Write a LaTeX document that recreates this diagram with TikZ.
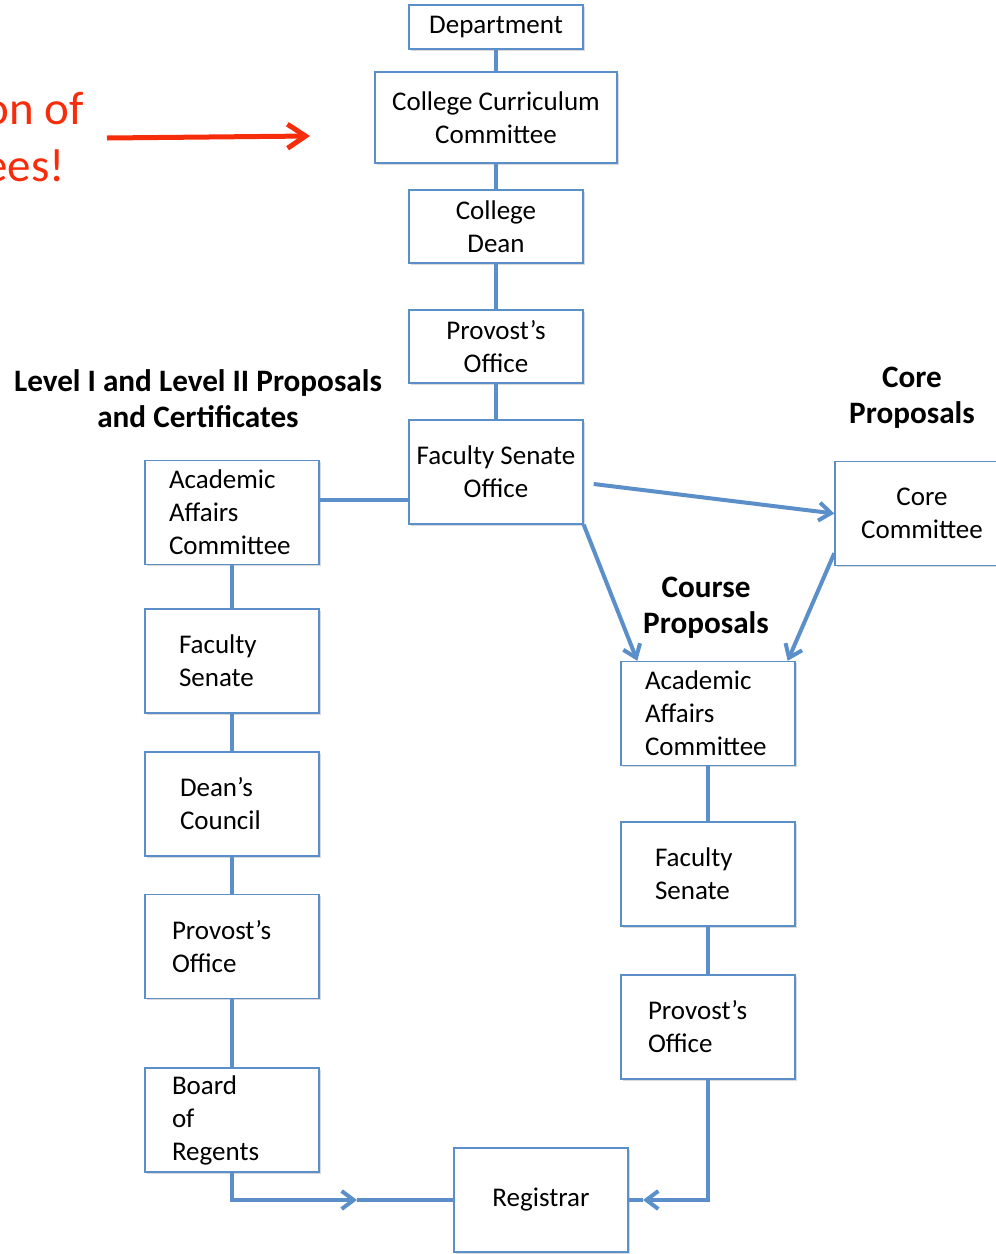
\documentclass[tikz,border=0pt]{standalone}
\usepackage{fontspec}
\setmainfont{Carlito}
\usetikzlibrary{arrows.meta,shadows}
\definecolor{linkblue}{RGB}{91,143,201}
\definecolor{alertred}{RGB}{246,44,10}

\begin{document}
\begin{tikzpicture}[x=0.5pt,y=-0.5pt,
	box/.style={draw=linkblue, line width=0.7pt, fill=white, minimum width=87pt, minimum height=52pt,
		align=center, inner sep=2pt, font=\fontsize{13.5}{16.5}\selectfont,
		drop shadow={shadow xshift=0.8pt, shadow yshift=-0.8pt, opacity=0.3}},
	lbox/.style={box, align=left, inner xsep=#1, text width=87pt-2*#1},
	link/.style={draw=linkblue, line width=2pt},
	tip/.style={-{Straight Barb[length=6pt,width=9pt]}},
	heading/.style={font=\fontsize{15.6}{18}\selectfont\bfseries, align=center}]
	\useasboundingbox (0,0) rectangle (996,1254);
	% upper chain
	\node[box, minimum height=22pt] (dept) at (496,27) {Department};
	\node[box, minimum width=121pt, minimum height=45.5pt] (ccc) at (496,117.5) {College Curriculum\\Committee};
	\node[box, minimum height=36.5pt] (dean) at (496,226.5) {College\\Dean};
	\node[box, minimum height=36.5pt] (prov) at (496,346.5) {Provost’s\\Office};
	\node[box] (fso) at (496,472) {Faculty Senate\\Office};
	% left column
	\node[lbox=12pt] (laac) at (232,512.5) {Academic\\Affairs\\Committee};
	\node[lbox=17pt] (lfs) at (232,661) {Faculty\\Senate};
	\node[lbox=17.5pt] (ldc) at (232,804) {Dean’s\\Council};
	\node[lbox=13.5pt] (lpo) at (232,946.5) {Provost’s\\Office};
	\node[lbox=13.5pt] (lbor) at (232,1120) {Board\\of\\Regents};
	% right column
	\node[box] (core) at (922,513.5) {Core\\Committee};
	\node[lbox=12pt] (raac) at (708,713.5) {Academic\\Affairs\\Committee};
	\node[lbox=17pt] (rfs) at (708,874) {Faculty\\Senate};
	\node[lbox=13.5pt] (rpo) at (708,1027) {Provost’s\\Office};
	\node[box] (reg) at (541,1200) {Registrar};
	% headings
	\node[heading] (lvlhd) at (198,399) {Level I and Level II Proposals\\and Certificates};
	\node[heading] (corehd) at (912,397.5) {Core\\Proposals};
	\node[heading] (coursehd) at (706,607.5) {Course\\Proposals};
	\node[font=\fontsize{23.5}{28.5}\selectfont, text=alertred, align=left, anchor=west, inner sep=0pt] (note) at (-16,137) {on of\\ees!};
	\coordinate (R1) at (107,138);
	\coordinate (R2) at (310,136);
	\coordinate (inL) at (357,1200);
	\coordinate (inR) at (643,1200);
	\draw[alertred, line width=2.5pt, -{Straight Barb[length=9pt,width=12pt]}] (R1) -- (R2);
	\draw[link] (dept) -- (ccc);
	\draw[link] (ccc) -- (dean);
	\draw[link] (dean) -- (prov);
	\draw[link] (prov) -- (fso);
	\draw[link] ([yshift=-14pt]fso.west) -- ([yshift=-14pt]fso.west -| laac.east);
	\draw[link] (laac) -- (lfs);
	\draw[link] (lfs) -- (ldc);
	\draw[link] (ldc) -- (lpo);
	\draw[link] (lpo) -- (lbor);
	\draw[link, tip] ([xshift=5pt,yshift=-6pt]fso.east) -- (core.west);
	\draw[link, tip] (fso.south east) -- ([xshift=8.5pt]raac.north west);
	\draw[link, tip] ([yshift=6.5pt]core.south west) -- ([xshift=-4pt]raac.north east);
	\draw[link] (raac) -- (rfs);
	\draw[link] (rfs) -- (rpo);
	\draw[link, tip] (lbor) |- (inL);
	\draw[link] (inL) -- (reg);
	\draw[link, tip] (rpo) |- (inR);
	\draw[link] (inR) -- (reg);
\end{tikzpicture}
\end{document}
